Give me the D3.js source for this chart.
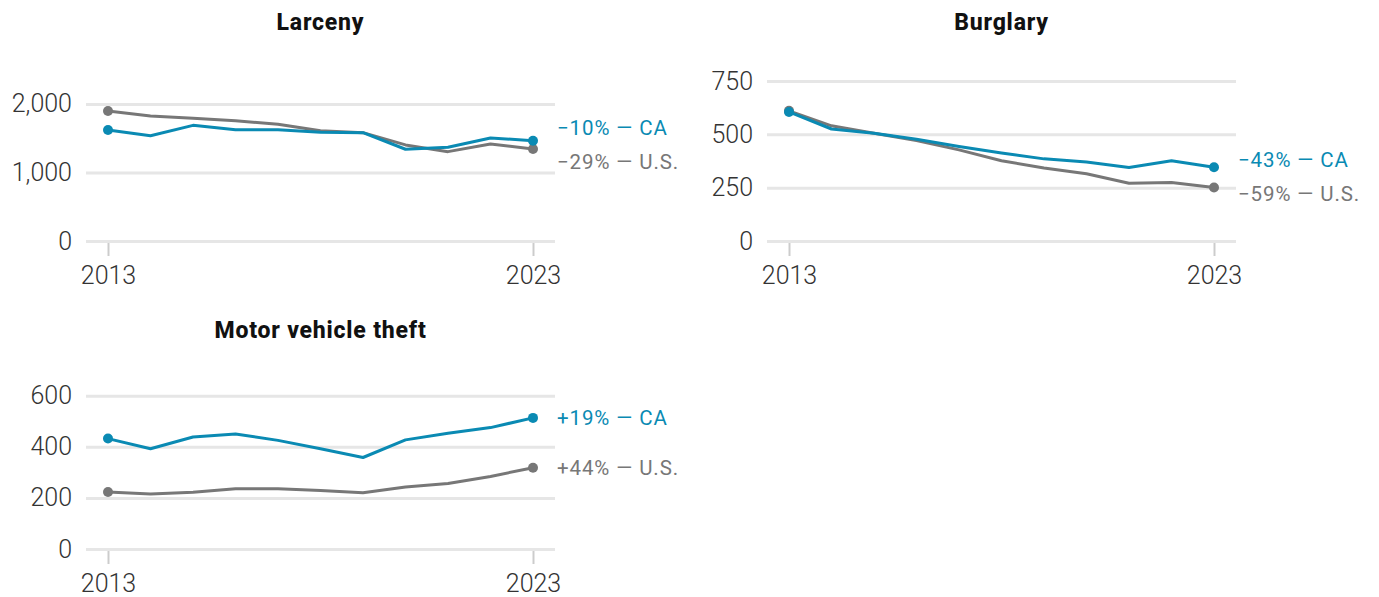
<!DOCTYPE html>
<html>
<head>
<meta charset="utf-8">
<script src="https://cdn.jsdelivr.net/npm/d3@7"></script>
<style>
  body { margin: 0; background: #fff; }
  svg { display: block; font-family: Roboto, "Liberation Sans", sans-serif; }
  .title { font-weight: 800; font-size: 23px; letter-spacing: 0.8px; fill: #111; }
  .tick-label { font-size: 25px; font-weight: 300; fill: #333; }
  .end-label { font-size: 20.5px; font-weight: 400; letter-spacing: 0.9px; }
</style>
</head>
<body>
<svg width="1379" height="597"></svg>
<script>
// years shown on every panel
let years = [2013, 2014, 2015, 2016, 2017, 2018, 2019, 2020, 2021, 2022, 2023];
let yearTicks = [2013, 2023];

// rates per 100,000
let larcenyCA = [1620, 1537, 1688, 1624, 1624, 1587, 1581, 1339, 1368, 1504, 1464];
let larcenyUS = [1897, 1824, 1790, 1755, 1703, 1610, 1581, 1402, 1304, 1416, 1343];
let burglaryCA = [605, 525, 505, 477, 443, 412, 385, 370, 345, 376, 346];
let burglaryUS = [610, 540, 505, 471, 427, 376, 342, 315, 271, 274, 251];
let mvtCA = [432, 392, 438, 450, 425, 392, 358, 427, 453, 475, 513];
let mvtUS = [223, 215, 222, 236, 236, 229, 220, 243, 256, 284, 318];

let larcenyTicks = [0, 1000, 2000];
let burglaryTicks = [0, 250, 500, 750];
let mvtTicks = [0, 200, 400, 600];

let titles = ["Larceny", "Burglary", "Motor vehicle theft"];
let caLabels = ["\u221210% \u2014 CA", "\u221243% \u2014 CA", "+19% \u2014 CA"];
let usLabels = ["\u221229% \u2014 U.S.", "\u221259% \u2014 U.S.", "+44% \u2014 U.S."];

let blue = "#0a8ab3",
    grey = "#777";

let panels = [
  { title: titles[0], ca: larcenyCA, us: larcenyUS, ticks: larcenyTicks, max: 2335, caLabel: caLabels[0], usLabel: usLabels[0], left: 86, top: 81 },
  { title: titles[1], ca: burglaryCA, us: burglaryUS, ticks: burglaryTicks, max: 750, caLabel: caLabels[1], usLabel: usLabels[1], left: 767, top: 81 },
  { title: titles[2], ca: mvtCA, us: mvtUS, ticks: mvtTicks, max: 626, caLabel: caLabels[2], usLabel: usLabels[2], left: 86, top: 389 }
];

let svg = d3.select("svg"),
    width = 469,
    height = 160,
    pad = 22;

panels.forEach(p => {
  let g = svg.append("g").attr("transform", `translate(${p.left},${p.top})`);

  let x = d3.scaleLinear()
      .domain([years[0], years[years.length - 1]])
      .range([pad, width - pad]);
  let y = d3.scaleLinear()
      .domain([0, p.max])
      .range([height, 0]);

  g.append("text")
      .attr("class", "title")
      .attr("x", width / 2)
      .attr("y", -51)
      .attr("text-anchor", "middle")
      .text(p.title);

  // grid + y labels
  let yAxis = g.append("g")
      .call(d3.axisLeft(y).tickValues(p.ticks).tickSize(-width).tickPadding(14).tickFormat(d3.format(",")));
  yAxis.select(".domain").remove();
  yAxis.selectAll(".tick line").attr("stroke", "#e6e6e6").attr("stroke-width", 3);
  yAxis.selectAll(".tick text")
      .attr("class", "tick-label")
      .attr("fill", null);
  yAxis.attr("font-family", null).attr("font-size", null);

  // x axis: two year ticks
  let xAxis = g.append("g")
      .attr("transform", `translate(0,${height + 2})`)
      .call(d3.axisBottom(x).tickValues(yearTicks).tickSize(13).tickPadding(10).tickFormat(d3.format("d")));
  xAxis.select(".domain").remove();
  xAxis.selectAll(".tick line").attr("stroke", "#ccc").attr("stroke-width", 2);
  xAxis.selectAll(".tick text")
      .attr("class", "tick-label")
      .attr("fill", null);
  xAxis.attr("font-family", null).attr("font-size", null);

  let line = d3.line()
      .x((d, i) => x(years[i]))
      .y(d => y(d));

  let series = [
    { values: p.us, color: grey },
    { values: p.ca, color: blue }
  ];

  series.forEach(s => {
    g.append("path")
        .datum(s.values)
        .attr("fill", "none")
        .attr("stroke", s.color)
        .attr("stroke-width", 3)
        .attr("stroke-linejoin", "round")
        .attr("d", line);

    let ends = [0, s.values.length - 1];
    g.selectAll(null)
        .data(ends)
        .join("circle")
        .attr("cx", i => x(years[i]))
        .attr("cy", i => y(s.values[i]))
        .attr("r", 5)
        .attr("fill", s.color);
  });

  // end labels, pushed apart when they sit too close
  let last = years.length - 1,
      yCA = y(p.ca[last]),
      yUS = y(p.us[last]),
      gap = 34;
  if (Math.abs(yCA - yUS) < gap) {
    let mid = (yCA + yUS) / 2,
        sign = yCA <= yUS ? -1 : 1;
    yCA = mid + sign * gap / 2;
    yUS = mid - sign * gap / 2;
  }

  g.append("text")
      .attr("class", "end-label")
      .attr("x", width + 2)
      .attr("y", yCA)
      .attr("dy", "0.35em")
      .attr("fill", blue)
      .text(p.caLabel);
  g.append("text")
      .attr("class", "end-label")
      .attr("x", width + 2)
      .attr("y", yUS)
      .attr("dy", "0.35em")
      .attr("fill", grey)
      .text(p.usLabel);
});
</script>
</body>
</html>
